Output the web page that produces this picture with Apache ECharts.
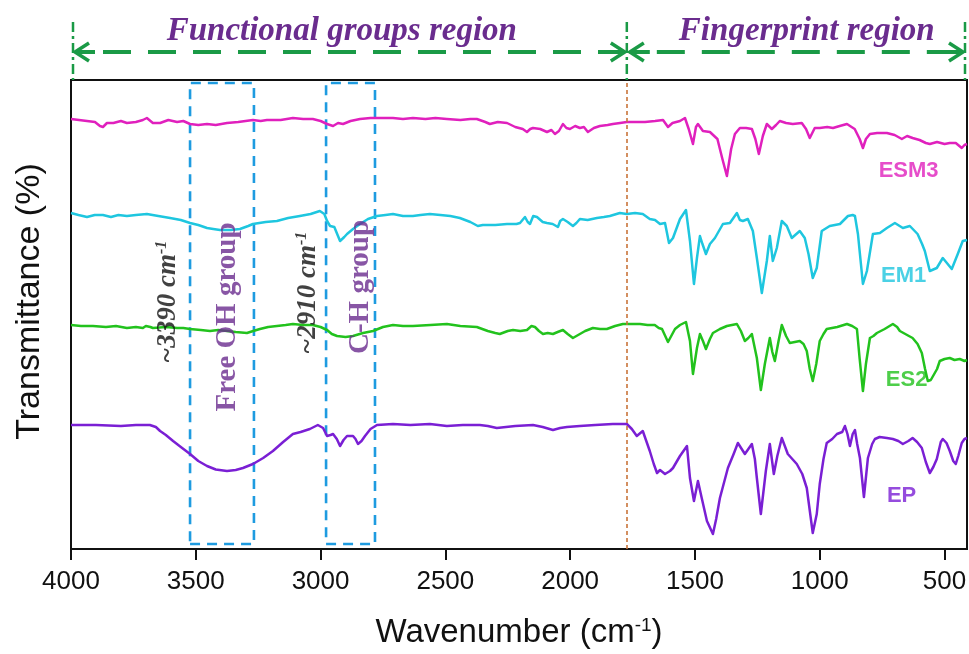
<!DOCTYPE html>
<html>
<head>
<meta charset="utf-8">
<script src="https://cdn.jsdelivr.net/npm/echarts@6/dist/echarts.min.js"></script>
<style>
  html, body { margin: 0; padding: 0; background: #fff; }
  #chart { width: 969px; height: 654px; }
</style>
</head>
<body>
<div id="chart"></div>
<script>
// FTIR spectra, stacked with vertical offsets: [wavenumber (cm-1), transmittance (offset, a.u.)]
const xTicks = [4000, 3500, 3000, 2500, 2000, 1500, 1000, 500];

const esm3 = [[4000,86],[3968,85.8],[3936,85.6],[3904,85.4],[3884,84.6],[3872,84.4],[3856,85.2],[3830,85.2],[3800,85.6],[3776,85.2],[3740,85.4],[3712,85.8],[3696,86.2],[3672,85.2],[3643,85.2],[3610,85.8],[3575,85.4],[3550,85.6],[3523,85],[3490,84.8],[3455,85],[3420,84.8],[3375,85.2],[3330,85.4],[3271,85.8],[3240,85.6],[3215,85.8],[3160,85.8],[3111,86.2],[3070,86],[3031,86],[3000,85.6],[2974,85],[2950,84.6],[2930,85.2],[2910,85],[2880,85.6],[2842,86],[2800,86.2],[2760,86.2],[2710,86.2],[2670,86],[2630,86.2],[2580,86],[2540,86.2],[2494,86],[2440,85.8],[2400,86],[2374,86],[2340,85.4],[2322,85],[2290,85.4],[2253,85.2],[2220,84.4],[2190,84],[2173,83.4],[2160,84],[2149,84.2],[2120,84],[2093,83.4],[2075,83.8],[2061,83],[2045,83.6],[2029,85],[2015,84.2],[2001,84],[1980,84.6],[1961,84.2],[1945,84.4],[1929,83.4],[1905,84.2],[1881,84.6],[1850,84.8],[1829,85],[1800,85.2],[1773,85.4],[1740,85.4],[1700,85.4],[1660,85.6],[1628,85.8],[1608,84.4],[1590,85.2],[1560,85.6],[1540,86.2],[1525,84],[1508,81],[1496,84.4],[1488,85],[1468,83.6],[1440,83.4],[1410,82],[1390,78],[1372,74.6],[1355,80],[1340,83],[1320,84.2],[1295,84.2],[1272,84],[1258,82],[1244,79],[1228,82.6],[1212,85],[1192,84],[1175,84.8],[1160,85.6],[1135,85.2],[1108,85],[1072,85.2],[1055,84],[1040,82.2],[1020,84.2],[1000,84.2],[970,84.4],[947,84.2],[920,84.6],[891,85],[860,84],[840,82],[827,80.2],[815,82],[799,83],[770,83.2],[731,83.2],[700,82.8],[671,82],[650,82.6],[628,82.2],[600,81.8],[575,81.2],[559,81],[530,81.4],[500,81],[479,81.2],[455,81.2],[431,80.2],[420,80.8],[410,81]];

const em1 = [[4000,67.2],[3970,66.8],[3936,66.4],[3905,66.8],[3872,66.8],[3840,66.4],[3810,66.8],[3776,66.6],[3740,66.8],[3696,67],[3650,66.6],[3603,66.2],[3560,65.8],[3523,65.2],[3490,64.8],[3455,64.2],[3430,64],[3403,63.8],[3360,63.8],[3323,64],[3290,64.6],[3271,65],[3220,65.4],[3175,65.6],[3130,66.2],[3083,66.6],[3040,67],[3003,67.6],[2985,67],[2974,65.6],[2962,64.6],[2945,64.4],[2922,61.6],[2905,62.4],[2894,63],[2870,64],[2842,65],[2810,66],[2774,66.6],[2740,66.8],[2710,67],[2670,66.6],[2630,66.6],[2600,66.8],[2562,67],[2520,66.8],[2480,66.6],[2442,66.2],[2400,65.4],[2370,64.6],[2350,64.8],[2300,64.8],[2253,65],[2215,65],[2201,65.2],[2181,66.4],[2170,65.4],[2161,65],[2148,66.6],[2133,66.4],[2110,65.4],[2093,65.2],[2070,65],[2049,64.4],[2040,65.6],[2029,66],[2010,65.4],[1989,64.6],[1975,65.2],[1961,66],[1930,65.8],[1893,66.2],[1865,66.4],[1841,66.6],[1801,67.2],[1773,67],[1740,67.2],[1709,67],[1681,66],[1660,65.8],[1640,65],[1620,65.2],[1604,61.2],[1588,62.2],[1560,66],[1536,67.8],[1520,61.6],[1504,53],[1492,58.2],[1480,62.6],[1470,61],[1456,59],[1440,61],[1420,62.2],[1388,65],[1360,65.2],[1332,67.2],[1320,65.8],[1308,65.6],[1288,66],[1268,63.6],[1252,58.2],[1232,51.2],[1212,57.6],[1200,62.6],[1188,57.6],[1172,60.2],[1152,65.6],[1132,64.6],[1112,62.2],[1080,63.6],[1060,62.2],[1045,59],[1028,54.2],[1012,56.2],[992,63.6],[960,64.6],[919,65],[887,66.6],[868,66.8],[859,66.6],[847,63],[827,53],[811,55.6],[787,63],[759,63.2],[731,64.2],[699,65.2],[667,64.2],[639,64.6],[608,63],[590,61],[579,59.6],[559,55.6],[531,56.2],[507,58.2],[471,56],[447,59],[427,61.6],[410,61.8]];

const es2 = [[4000,44.8],[3960,44.6],[3912,44.6],[3860,44.4],[3820,44.6],[3776,44.2],[3740,44.4],[3712,44.2],[3700,44.6],[3692,45],[3682,44.4],[3672,44.2],[3620,44.4],[3575,44.2],[3550,44.2],[3523,44],[3480,43.8],[3443,43.6],[3410,43.8],[3375,43.6],[3340,43.4],[3295,43.2],[3270,43.6],[3243,44],[3210,44.4],[3175,44.6],[3140,44.8],[3111,45],[3070,44.8],[3031,44.8],[3000,44.4],[2974,43.8],[2955,43],[2934,42.6],[2900,42.4],[2870,42.6],[2830,43.2],[2790,43.6],[2750,44.4],[2710,44.8],[2670,44.6],[2630,44.6],[2560,44.8],[2494,45],[2440,44.6],[2374,44.4],[2330,43.6],[2300,43.2],[2282,43],[2250,43.6],[2229,43.8],[2200,43.6],[2173,43.8],[2155,44.6],[2141,44.4],[2125,43.6],[2109,43],[2090,43.2],[2069,43],[2050,43.4],[2029,43.8],[2010,43],[1989,42.2],[1975,42.6],[1961,43],[1940,43.6],[1909,44.2],[1880,44],[1853,44],[1820,44.6],[1789,45],[1773,45],[1720,45],[1690,44.8],[1661,44.8],[1645,44.2],[1632,44],[1608,41.4],[1595,42.6],[1580,44],[1560,44.8],[1536,45.4],[1520,41.6],[1508,35],[1492,40.2],[1480,43],[1468,41.6],[1456,40],[1440,42],[1428,43.2],[1400,44],[1372,44.6],[1332,45],[1316,43.6],[1300,41.6],[1286,42.2],[1272,43],[1252,38.2],[1236,31.8],[1220,37],[1200,42.2],[1190,39.4],[1180,37.6],[1165,41.6],[1152,44.8],[1135,42.6],[1120,41.2],[1100,41.4],[1080,41.6],[1065,41],[1052,39.6],[1040,36],[1028,33.6],[1014,37],[1000,41.6],[985,43],[972,44],[930,44.4],[891,45],[870,44.6],[851,44],[840,38],[827,31.6],[815,37],[799,42.2],[785,42.6],[771,43.2],[740,44],[707,45],[690,44.4],[679,43.6],[650,42.8],[628,42.2],[608,41],[591,39.2],[578,36],[567,33.6],[555,33.8],[547,34],[530,36],[519,37.6],[500,38],[479,38.2],[460,37.8],[439,38],[420,37.6],[410,37.8]];

const ep = [[4000,24.8],[3900,24.8],[3800,24.6],[3740,24.8],[3684,24.8],[3660,24.4],[3643,23.6],[3620,22.8],[3591,21.6],[3560,20.4],[3523,19],[3490,17.6],[3455,16.6],[3420,15.9],[3375,15.6],[3340,15.8],[3311,16.2],[3271,17],[3230,18.2],[3191,19.6],[3150,21.4],[3111,23],[3080,23.4],[3043,24],[3011,24.8],[2990,24.2],[2974,22.6],[2960,22.8],[2950,23],[2935,22],[2922,20.6],[2908,21.8],[2894,22.6],[2870,22.6],[2860,22],[2850,21],[2836,21.6],[2822,22.6],[2800,24],[2774,24.8],[2710,25],[2640,24.8],[2562,25],[2494,24.6],[2430,24.8],[2362,24.8],[2330,24.6],[2294,24.2],[2220,24.6],[2149,24.8],[2110,24.4],[2069,23.8],[2040,24.2],[2013,24.4],[1961,24.6],[1900,24.8],[1829,25],[1773,25],[1753,24],[1733,22.6],[1709,23.6],[1695,21.6],[1681,19.6],[1665,17],[1652,15.2],[1640,15.8],[1632,15.6],[1620,15],[1600,15.6],[1588,16.2],[1560,18.6],[1532,20.6],[1520,14.2],[1504,9.6],[1488,13.6],[1472,10],[1452,5.6],[1428,3],[1415,6],[1400,10.2],[1368,16.2],[1345,19],[1328,21.2],[1300,19],[1272,21],[1260,18],[1252,14.2],[1236,7],[1216,15.6],[1200,21],[1184,15],[1170,18.6],[1152,22.2],[1128,19],[1092,17],[1070,15],[1052,12.2],[1028,3.2],[1012,7],[1000,13],[985,18],[972,21.2],[950,22],[931,23],[910,23.4],[899,24.6],[889,23],[879,20.6],[868,23],[859,23.8],[850,21],[839,18.2],[823,10.4],[807,18.2],[790,21],[779,22],[760,22.4],[731,22.2],[707,22],[685,21.6],[667,21],[645,21.6],[628,22.2],[610,21.4],[591,20.2],[575,17.4],[559,15.2],[545,16.4],[531,18],[515,21.4],[507,22],[492,21.2],[479,19.6],[465,17.6],[455,17],[445,18.6],[431,21.2],[420,22],[410,22.2]];

// Band regions and the boundary between functional-group and fingerprint regions
const ohBand = [3523, 3267];
const chBand = [2978, 2782];
const boundaryWn = 1773;

const seriesNames = ['ESM3', 'EM1', 'ES2', 'EP'];
const seriesColors = ['#e020bd', '#1ec6df', '#22c21d', '#7a1fd4'];
const seriesData = [esm3, em1, es2, ep];
// label anchor for each trace [wavenumber, offset]
const nameAnchors = [[644, 75.6], [664, 54.6], [652, 33.8], [672, 10.6]];

const SANS = '"Liberation Sans", Arial, Helvetica, sans-serif';
const SERIF = '"Liberation Serif", "Times New Roman", serif';
const PURPLE = '#6a2c8e';
const GREEN = '#1a9a46';

const chart = echarts.init(document.getElementById('chart'), null, { renderer: 'canvas' });

const lineSeries = seriesData.map((d, i) => ({
  name: seriesNames[i],
  type: 'line',
  data: d,
  showSymbol: false,
  symbol: 'none',
  lineStyle: { color: seriesColors[i], width: 2.5, join: 'round' },
  z: 3,
  animation: false
}));

// band boxes and boundary line hang off the first trace
lineSeries[0].markArea = {
  silent: true,
  itemStyle: { color: 'rgba(0,0,0,0)', borderColor: '#1e9be0', borderWidth: 2.6, borderType: [10, 7] },
  data: [
    [{ xAxis: ohBand[0], yAxis: 1 }, { xAxis: ohBand[1], yAxis: 93.2 }],
    [{ xAxis: chBand[0], yAxis: 1 }, { xAxis: chBand[1], yAxis: 93.2 }]
  ]
};
lineSeries[0].markLine = {
  silent: true,
  symbol: 'none',
  label: { show: false },
  lineStyle: { color: '#c9743a', width: 1.6, type: [4, 3] },
  data: [{ xAxis: boundaryWn }]
};

const waveRich = {
  a: { fontFamily: SERIF, fontStyle: 'italic', fontWeight: 'bold', fontSize: 27, color: '#111' },
  s: { fontFamily: SERIF, fontStyle: 'italic', fontWeight: 'bold', fontSize: 16, color: '#111', verticalAlign: 'top', lineHeight: 16 }
};

const notes = [
  { value: [3613, 49.4], label: { formatter: '{a|~3390 cm}{s|-1}', rich: waveRich } },
  { value: [3372, 46.4], label: { formatter: 'Free OH group', fontFamily: SERIF, fontWeight: 'bold', fontSize: 29, color: PURPLE } },
  { value: [3051, 51.2], label: { formatter: '{a|~2910 cm}{s|-1}', rich: waveRich } },
  { value: [2838, 52.4], label: { formatter: 'C-H group', fontFamily: SERIF, fontWeight: 'bold', fontSize: 29, color: PURPLE } }
];
notes.forEach(n => { n.label.show = true; n.label.rotate = 90; n.label.position = 'inside'; });

const nameItems = nameAnchors.map((p, i) => ({
  value: p,
  label: { show: true, position: 'inside', formatter: seriesNames[i], fontFamily: SANS, fontWeight: 'bold', fontSize: 22, color: seriesColors[i] }
}));

const option = {
  animation: false,
  backgroundColor: '#fff',
  grid: {
    left: 71, right: 2, top: 80, bottom: 105,
    outerBoundsMode: 'none', containLabel: false,
    show: true, borderColor: '#111', borderWidth: 2, backgroundColor: 'rgba(0,0,0,0)'
  },
  xAxis: {
    type: 'value',
    inverse: true,
    min: 410,
    max: 4000,
    name: '{a|Wavenumber (cm}{s|-1}{a|)}',
    nameLocation: 'middle',
    nameGap: 67,
    nameTextStyle: {
      rich: {
        a: { fontFamily: SANS, fontSize: 33, color: '#111' },
        s: { fontFamily: SANS, fontSize: 19, color: '#111', verticalAlign: 'top', lineHeight: 19 }
      }
    },
    axisLine: { show: true, onZero: false, lineStyle: { color: '#111', width: 2 } },
    axisTick: { show: true, inside: false, length: 11, customValues: xTicks, lineStyle: { color: '#111', width: 2 } },
    axisLabel: { show: true, customValues: xTicks, margin: 20, fontFamily: SANS, fontSize: 26, color: '#111',
      formatter: (v) => String(v) },
    splitLine: { show: false }
  },
  yAxis: {
    type: 'value',
    min: 0,
    max: 93.8,
    name: 'Transmittance (%)',
    nameLocation: 'middle',
    nameGap: 24,
    nameTextStyle: { fontFamily: SANS, fontSize: 34, color: '#111', padding: [0, 0, 0, 26] },
    axisLine: { show: true, lineStyle: { color: '#111', width: 2 } },
    axisTick: { show: false },
    axisLabel: { show: false },
    splitLine: { show: false }
  },
  series: lineSeries.concat([
    { name: 'notes', type: 'scatter', data: notes, symbolSize: 0, silent: true, z: 5 },
    { name: 'trace names', type: 'scatter', data: nameItems, symbolSize: 0, silent: true, z: 5 }
  ])
};

chart.setOption(option);

// Region brackets above the plot, placed from the x axis scale
const px = (wn) => chart.convertToPixel({ xAxisIndex: 0 }, wn);
const xL = px(4000) + 2, xM = px(boundaryWn), xR = px(410) - 2;
const yArrow = 52, yTop = 22, yBot = 80;

function vline(x) {
  return { type: 'line', shape: { x1: x, y1: yTop, x2: x, y2: yBot },
    style: { stroke: GREEN, lineWidth: 2.5, lineDash: [10, 4, 3, 4] }, silent: true };
}
function shaft(x1, x2) {
  return { type: 'line', shape: { x1: x1, y1: yArrow, x2: x2, y2: yArrow },
    style: { stroke: GREEN, lineWidth: 4, lineDash: [28, 17] }, silent: true };
}
function head(tip, dir) {
  // dir = -1 points left, +1 points right
  return { type: 'polyline', shape: { points: [[tip - dir * 14, yArrow - 9], [tip, yArrow], [tip - dir * 14, yArrow + 9]] },
    style: { stroke: GREEN, lineWidth: 3.5, fill: null, lineJoin: 'miter' }, silent: true };
}
function stem(tip, dir) {
  return { type: 'line', shape: { x1: tip, y1: yArrow, x2: tip - dir * 20, y2: yArrow },
    style: { stroke: GREEN, lineWidth: 4 }, silent: true };
}
function title(text, wn) {
  return { type: 'text', x: px(wn), y: 48, silent: true,
    style: { text: text, fontFamily: SERIF, fontStyle: 'italic', fontWeight: 'bold', fontSize: 33, fill: PURPLE,
      align: 'center', verticalAlign: 'bottom' } };
}

chart.setOption({
  graphic: [
    vline(xL), vline(xM), vline(xR),
    shaft(xL + 30, xM - 20), shaft(xM + 30, xR - 20),
    head(xL + 2, -1), stem(xL + 2, -1),
    head(xM - 2, 1), stem(xM - 2, 1),
    head(xM + 3, -1), stem(xM + 3, -1),
    head(xR - 2, 1), stem(xR - 2, 1),
    title('Functional groups region', 2915),
    title('Fingerprint region', 1052)
  ]
});
</script>
</body>
</html>
